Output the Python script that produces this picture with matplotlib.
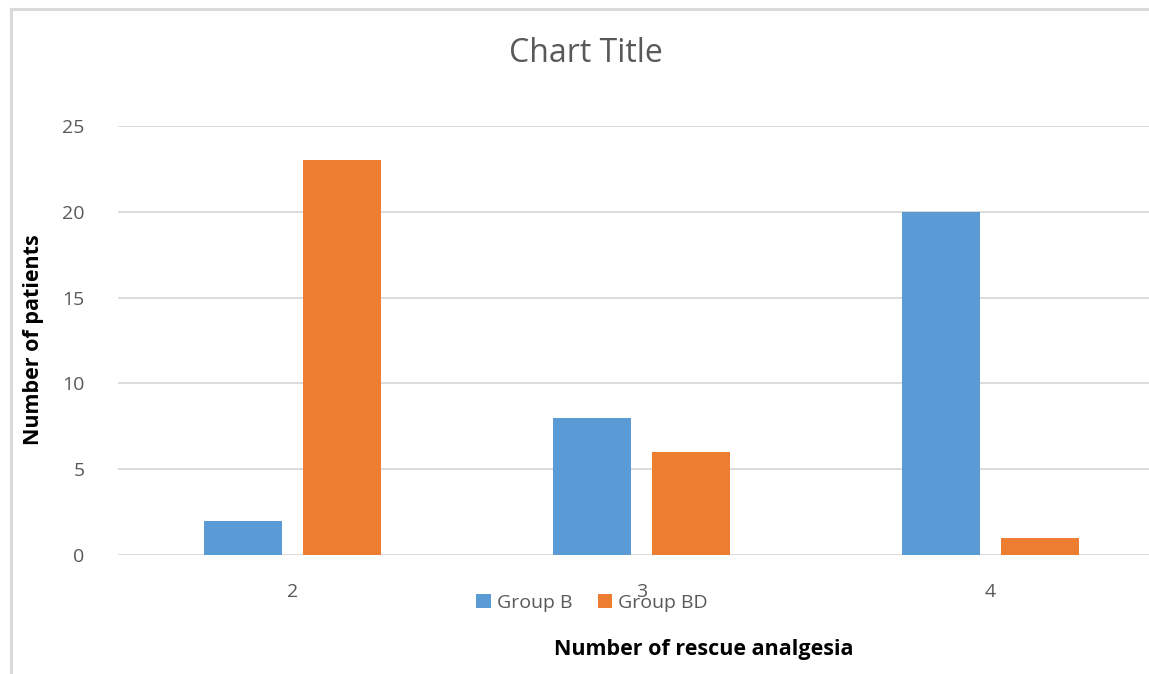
import numpy as np
import matplotlib.pyplot as plt
from matplotlib.lines import Line2D

# 救援镇痛次数 vs 患者人数
categories = ["2", "3", "4"]
group_b = [2, 8, 20]
group_bd = [23, 6, 1]
y_ticks = [0, 5, 10, 15, 20, 25]

W, H = 1149, 674
fig = plt.figure(figsize=(W / 100, H / 100), dpi=100)
plt.rcParams['font.family'] = ['Open Sans', 'DejaVu Sans']

# 外框（只露出左边和上边）
fig.add_artist(Line2D([11 / W, 11 / W], [0, 1 - 9 / H], color='#d9d9d9', lw=2.2))
fig.add_artist(Line2D([11 / W, 1], [1 - 9 / H, 1 - 9 / H], color='#d9d9d9', lw=2.2))

left, right = 118, W
bottom, top = 555, 126
ax = fig.add_axes([left / W, 1 - bottom / H, (right - left) / W, (bottom - top) / H])

cat_px = 349.0
x = np.arange(len(categories))
bw = 78 / cat_px
off = 49.5 / cat_px
ax.bar(x - off, group_b, bw, color='#5b9bd5', label='Group B', zorder=3)
ax.bar(x + off, group_bd, bw, color='#ed7d31', label='Group BD', zorder=3)

ax.set_xlim(-0.5, -0.5 + (right - left) / cat_px)
ax.set_ylim(0, 25)
ax.set_yticks(y_ticks)
ax.set_xticks(x)
ax.set_xticklabels(categories)
ax.grid(axis='y', color='#d9d9d9', lw=1.3, zorder=0)
for s in ax.spines.values():
    s.set_visible(False)
ax.tick_params(length=0, labelsize=14, labelcolor='#595959')
ax.tick_params(axis='y', pad=24)
ax.tick_params(axis='x', pad=20)

fig.text(586 / W, 1 - 53 / H, 'Chart Title', ha='center', va='center',
         fontsize=23, color='#595959')
fig.text(34 / W, 1 - 340 / H, 'Number of patients', ha='center', va='center',
         rotation=90, fontsize=15.5, fontweight='bold', color='black')
fig.text(704 / W, 1 - 650 / H, 'Number of rescue analgesia', ha='center', va='center',
         fontsize=15.5, fontweight='bold', color='black')

fig.legend(loc='center', bbox_to_anchor=(592 / W, 1 - 603 / H), ncol=2, frameon=False,
           fontsize=14, labelcolor='#595959', handlelength=0.75, handleheight=0.75,
           handletextpad=0.3, columnspacing=1.3)

fig.savefig('out.png', dpi=100)
